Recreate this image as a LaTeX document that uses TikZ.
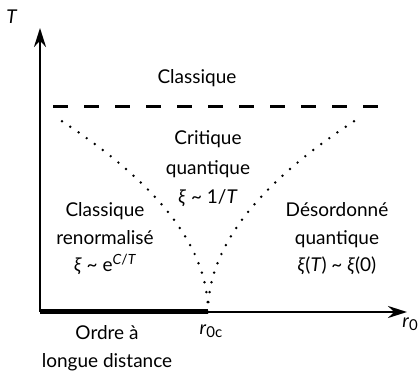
\documentclass[tikz,border=0pt]{standalone}
\usepackage{fontspec}
\setmainfont{Lato}
\usepackage{tikz}
\usetikzlibrary{arrows.meta}
\tikzset{
    axis/.style={line width=2.4pt,-{Stealth[length=19pt,width=12pt]}},
    crossover/.style={line width=2.7pt,line cap=round,dash pattern=on 0pt off 10pt},
    regime/.style={font=\fontsize{19}{27.5}\selectfont,align=center},
}
\newcommand{\tl}{\textasciitilde}

\begin{document}
\begin{tikzpicture}[x=1pt,y=1pt]
    \useasboundingbox (0,0) rectangle (418,372);
    % Axes
    \coordinate (origin) at (40,60);
    \coordinate (qcp) at (208,60);
    \coordinate (ttop) at (40,344);
    \coordinate (rend) at (407,60);
    \draw[axis] (origin) -- (ttop);
    \draw[axis] (origin) -- (rend);
    \draw[line width=5pt] (origin) -- (qcp);
    \node[regime] (tlabel) at (12,355) {\textit{T}};
    \node[regime] (rlabel) at (410,48) {\textit{r}\raisebox{-0.35ex}{\fontsize{15}{15}\selectfont 0}};
    \node[regime] (rclabel) at (211,41) {\textit{r}\raisebox{-0.35ex}{\fontsize{15}{15}\selectfont 0c}};

    % Crossover lines
    \coordinate (dashl) at (53,265);
    \coordinate (dashr) at (383,265);
    \draw[line width=3pt,dash pattern=on 15pt off 16pt] (dashl) -- (dashr);
    \coordinate (leftend) at (57,254);
    \coordinate (rightend) at (359,254);
    \draw[crossover] (qcp) .. controls +(0,65) and +(101,-65) .. (leftend);
    \draw[crossover] (qcp) .. controls +(0,65) and +(-101,-65) .. (rightend);

    % Regimes
    \node[regime] (classic) at (197,294) {Classique};
    \node[regime,font=\fontsize{19}{29.5}\selectfont] (critical) at (208,203) {Critique\\quantique\\\textit{ξ} \tl{} 1/\textit{T}};
    \node[regime] (renorm) at (105,133) {Classique\\renormalisé\\\textit{ξ} \tl{} e\raisebox{0.8ex}{\fontsize{14}{14}\selectfont\textit{C}/\textit{T}}};
    \node[regime] (disorder) at (337,133) {Désordonné\\quantique\\\textit{ξ}(\textit{T}) \tl{} \textit{ξ}(0)};
    \node[regime] (order) at (107,24) {Ordre à\\longue distance};
\end{tikzpicture}
\end{document}
